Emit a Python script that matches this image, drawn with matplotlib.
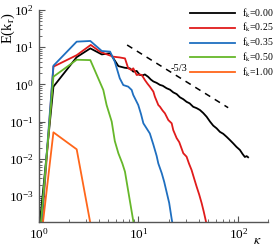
import numpy as np
import matplotlib
matplotlib.use('Agg')
import matplotlib.pyplot as plt

plt.rcParams['font.family'] = ['Liberation Serif', 'DejaVu Serif']
plt.rcParams['mathtext.fontset'] = 'stix'

# spectra
k_black = [1.0, 1.41, 2.41, 3.3, 4.3, 5.2, 6.3, 7.3, 8.2, 8.9, 9.6, 10.3, 11.0, 11.6, 12.5,
           13.3, 14.1, 15.2, 16.4, 17.5, 19.1, 20.7, 22.3, 24.1, 26.0, 28.1, 30.3, 32.5,
           35.3, 38.2, 41.2, 44.5, 48.1, 52.0, 56.0, 60.5, 65.3, 70.5, 76.2, 82.2, 88.7,
           95.5, 103.5, 110.0, 116.0, 121.0, 125.0]
E_black = [8e-5, 0.87, 5.4, 9.3, 6.4, 6.9, 3.1, 2.8, 2.7, 2.2, 2.3, 1.8, 1.75, 1.85, 1.6,
           1.35, 1.2, 1.1, 0.97, 0.92, 0.79, 0.72, 0.61, 0.55, 0.45, 0.40, 0.34, 0.31,
           0.25, 0.23, 0.205, 0.17, 0.135, 0.10, 0.078, 0.066, 0.053, 0.047, 0.039, 0.032,
           0.026, 0.021, 0.0173, 0.0135, 0.0112, 0.0118, 0.011]

k_red = [1.0, 1.41, 2.41, 3.33, 4.12, 5.0, 5.6, 6.5, 7.33, 7.9, 8.55, 8.87, 9.6, 10.3, 10.8,
         11.6, 12.3, 13.0, 14.1, 14.6, 15.2, 15.8, 16.4, 17.4, 18.4, 19.9, 21.5, 22.3, 24.1,
         25.6, 28.1, 30.3, 32.0, 34.0, 36.0, 38.2, 40.5, 42.9, 45.0, 47.3, 50.0]
E_red = [1e-5, 3.0, 6.1, 11.5, 7.6, 6.2, 5.56, 5.3, 5.0, 2.71, 2.44, 2.71, 1.79, 1.85, 1.79,
         1.31, 1.05, 0.87, 0.64, 0.467, 0.36, 0.279, 0.252, 0.2, 0.167, 0.110, 0.090, 0.059,
         0.036, 0.028, 0.0141, 0.0114, 0.0075, 0.005, 0.003, 0.00178, 0.0011, 6.4e-4,
         3.8e-4, 2.1e-4, 1e-4]

k_blue = [1.0, 1.41, 2.41, 3.3, 4.3, 5.2, 5.8, 6.5, 7.05, 7.9, 8.55, 8.87, 9.95, 10.6, 11.2,
          12.1, 13.0, 14.1, 15.2, 15.8, 17.1, 18.1, 19.1, 20.3, 21.5, 22.5]
E_blue = [1.7e-5, 3.18, 14.1, 14.7, 7.9, 7.6, 4.08, 1.46, 0.96, 0.87, 0.71, 0.52, 0.28, 0.16,
          0.09, 0.065, 0.048, 0.024, 0.012, 0.0075, 0.0041, 0.0024, 0.0013, 6.5e-4, 2.4e-4,
          1.2e-4]

k_green = [1.0, 1.41, 2.41, 3.3, 4.45, 4.8, 5.4, 5.8, 6.3, 6.9, 7.33, 9.0, 9.5]
E_green = [3.2e-5, 1.61, 4.6, 4.5, 0.707, 0.279, 0.10, 0.03, 0.014, 0.0075, 0.0045, 1.7e-4, 8e-5]

k_orange = [1.0, 1.41, 2.41, 3.35]
E_orange = [1.8e-5, 0.0515, 0.018, 1.5e-4]

fk_labels = ['0.00', '0.25', '0.35', '0.50', '1.00']
colors = ['black', '#e01b1b', '#1f6fc0', '#66b72a', '#ff661a']

k_ref = [7.7, 79.0]
C_ref = 344.0

fig = plt.figure(figsize=(2.78, 2.47), dpi=100)
ax = fig.add_axes([0.1385, 0.1012, 0.8273, 0.8583])

series = [(k_black, E_black), (k_red, E_red), (k_blue, E_blue),
          (k_green, E_green), (k_orange, E_orange)]
for (k, E), c, lab in zip(series, colors, fk_labels):
    ax.plot(k, E, color=c, lw=1.3, label=r'f$_\mathrm{k}$=' + lab)

kr = np.array(k_ref)
ax.plot(kr, C_ref * kr ** (-5.0 / 3.0), color='black', lw=1.1, ls=(0, (4, 3.5)))
ax.text(25.4, 2.67, '-5/3', fontsize=7.5, ha='center', va='center')

ax.set_xscale('log')
ax.set_yscale('log')
ax.set_xlim(1, 200)
ax.set_ylim(2e-4, 100)

for s in ['top', 'right']:
    ax.spines[s].set_visible(False)
for s in ['left', 'bottom']:
    ax.spines[s].set_color('#555555')
    ax.spines[s].set_linewidth(1.0)

ax.tick_params(which='both', direction='in', colors='#555555', labelcolor='black',
               labelsize=9.5)
ax.tick_params(which='major', length=4)
ax.tick_params(which='minor', length=2.5)
ax.set_yticks([1e-3, 1e-2, 1e-1, 1, 10, 100])

fig.text(257 / 278, 1 - 240 / 247, r'$\kappa$', fontsize=10, ha='center', va='center')
fig.text(8 / 278, 1 - 28 / 247, r'E(k$_\mathrm{r}$)', fontsize=10.5, rotation=90,
         ha='center', va='center')

ax.legend(loc='upper left', bbox_to_anchor=(190 / 278, 1 - 6 / 247),
          bbox_transform=fig.transFigure, frameon=False, fontsize=7,
          handlelength=4.6, handletextpad=0.7, labelspacing=0.15,
          borderpad=0, borderaxespad=0)

fig.savefig('out.png', dpi=100)
